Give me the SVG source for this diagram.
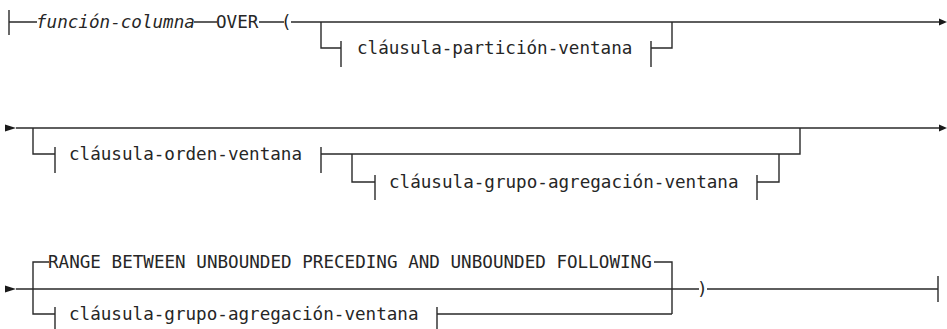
<svg xmlns="http://www.w3.org/2000/svg" width="947" height="329" viewBox="0 0 947 329">
  <style>
    .ln { fill: none; stroke: #2a2a2a; stroke-width: 1.4; }
    .ar { fill: #1a1a1a; stroke: none; }
    .t { font-family: "DejaVu Sans Mono", "Liberation Mono", monospace; font-size: 17.6px; fill: #262626; }
    .it { font-style: italic; }
  </style>
  <rect width="947" height="329" fill="#ffffff"/>

  <!-- Connectors: rails, branches, bars and arrowheads -->
  <g id="connectors">
    <!-- Row 1 -->
    <path class="ln" d="M9,10 V35 M9,22 H37 M194,22 H217 M259,22 H284 M291,22 H941"/>
    <path class="ln" d="M321,22 V48 H341 M341,41 V67"/>
    <path class="ln" d="M651,41 V67 M651,48 H672 V22"/>
    <path class="ar" d="M939,18.5 L947,22 L939,25.5 Z"/>

    <!-- Row 2 -->
    <path class="ar" d="M5,124.5 L16,128 L5,131.5 Z"/>
    <path class="ln" d="M16,128 H941"/>
    <path class="ln" d="M33,128 V154 H55 M55,147 V173"/>
    <path class="ln" d="M321,147 V173 M321,154 H800 V128"/>
    <path class="ln" d="M352,154 V182 H375 M375,175 V200"/>
    <path class="ln" d="M757,175 V200 M757,182 H779 V154"/>
    <path class="ar" d="M939,124.5 L947,128 L939,131.5 Z"/>

    <!-- Row 3 -->
    <path class="ar" d="M5,285.5 L16,289 L5,292.5 Z"/>
    <path class="ln" d="M16,289 H699 M707,289 H938 M938,276 V302"/>
    <path class="ln" d="M33,289 V262 H49 M654,262 H672 V314 M33,289 V314 H55 M55,307 V329"/>
    <path class="ln" d="M437,307 V329 M437,314 H672"/>
  </g>

  <!-- Row 1 nodes -->
  <g id="funcion-columna">
    <text class="t it" x="36" y="28">función-columna</text>
  </g>
  <g id="over">
    <text class="t" x="216" y="28">OVER</text>
  </g>
  <g id="paren-open">
    <text class="t" x="281" y="28">(</text>
  </g>
  <g id="clausula-particion-ventana">
    <text class="t" x="357" y="54">cláusula-partición-ventana</text>
  </g>

  <!-- Row 2 nodes -->
  <g id="clausula-orden-ventana">
    <text class="t" x="69" y="160">cláusula-orden-ventana</text>
  </g>
  <g id="clausula-grupo-agregacion-ventana-1">
    <text class="t" x="389" y="188">cláusula-grupo-agregación-ventana</text>
  </g>

  <!-- Row 3 nodes -->
  <g id="range-default">
    <text class="t" x="48" y="268">RANGE BETWEEN UNBOUNDED PRECEDING AND UNBOUNDED FOLLOWING</text>
  </g>
  <g id="clausula-grupo-agregacion-ventana-2">
    <text class="t" x="69" y="320">cláusula-grupo-agregación-ventana</text>
  </g>
  <g id="paren-close">
    <text class="t" x="697" y="295">)</text>
  </g>
</svg>
